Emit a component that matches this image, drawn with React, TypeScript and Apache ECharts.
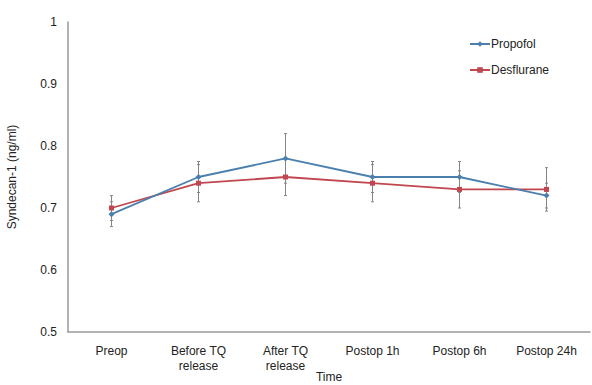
import React, { useEffect, useRef } from "react";
import * as echarts from "echarts";

const categories = ["Preop", "Before TQ\nrelease", "After TQ\nrelease", "Postop 1h", "Postop 6h", "Postop 24h"];
const propofol = [0.69, 0.75, 0.78, 0.75, 0.75, 0.72];
const propofolErr = [0.02, 0.025, 0.04, 0.025, 0.025, 0.02];
const desflurane = [0.70, 0.74, 0.75, 0.74, 0.73, 0.73];
const desfluraneErr = [0.02, 0.03, 0.03, 0.03, 0.03, 0.035];

const BLUE = "#4a7fae";
const RED = "#c0474f";

// Vertical whiskers (mean ± error) drawn through the chart's own scales
function errorSeries(name: string, values: number[], errs: number[]) {
  return {
    name: name + "-err",
    type: "custom",
    z: 1,
    silent: true,
    data: values.map((v, i) => [i, v - errs[i], v + errs[i]]),
    renderItem: (params: any, api: any) => {
      const x = api.value(0);
      const lo = api.coord([x, api.value(1)]);
      const hi = api.coord([x, api.value(2)]);
      const w = 1.5;
      const style = { stroke: "#858585", lineWidth: 1 };
      return {
        type: "group",
        children: [
          { type: "line", shape: { x1: lo[0], y1: lo[1], x2: hi[0], y2: hi[1] }, style },
          { type: "line", shape: { x1: lo[0] - w, y1: lo[1], x2: lo[0] + w, y2: lo[1] }, style },
          { type: "line", shape: { x1: hi[0] - w, y1: hi[1], x2: hi[0] + w, y2: hi[1] }, style },
        ],
      };
    },
  };
}

export default function App() {
  const ref = useRef<HTMLDivElement>(null);
  useEffect(() => {
    const chart = echarts.init(ref.current!, null, { renderer: "svg" });
    const font = "Liberation Sans, Arial, sans-serif";
    chart.setOption({
      animation: false,
      backgroundColor: "#ffffff",
      textStyle: { fontFamily: font },
      legend: {
        orient: "vertical",
        left: 464,
        top: 33,
        itemGap: 14,
        itemWidth: 20,
        itemHeight: 7,
        data: ["Propofol", "Desflurane"],
        textStyle: { fontSize: 12, color: "#222", fontFamily: font, padding: [0, 0, 0, -4] },
      },
      grid: { left: 68, right: 2, top: 22, bottom: 53, containLabel: false, outerBoundsMode: "none" },
      xAxis: {
        type: "category",
        data: categories,
        boundaryGap: true,
        name: "Time",
        nameLocation: "middle",
        nameGap: 39,
        nameMoveOverlap: false,
        nameTextStyle: { fontSize: 12, lineHeight: 12, color: "#222", fontFamily: font },
        axisLine: { lineStyle: { color: "#9a9a9a", width: 1.5 } },
        axisTick: { show: false },
        axisLabel: { fontSize: 12, color: "#222", lineHeight: 15, margin: 11, fontFamily: font, interval: 0 },
      },
      yAxis: {
        type: "value",
        min: 0.5,
        max: 1,
        interval: 0.1,
        name: "Syndecan-1 (ng/ml)",
        nameLocation: "middle",
        nameGap: 50,
        nameTextStyle: { fontSize: 12, color: "#222", fontFamily: font },
        axisLine: { show: true, lineStyle: { color: "#9a9a9a", width: 1.5 } },
        axisTick: { show: false },
        splitLine: { show: false },
        axisLabel: {
          fontSize: 12,
          color: "#222",
          margin: 11,
          fontFamily: font,
          formatter: (v: number) => (Math.abs(v - 1) < 1e-9 ? "1" : v.toFixed(1)),
        },
      },
      series: [
        errorSeries("Propofol", propofol, propofolErr),
        errorSeries("Desflurane", desflurane, desfluraneErr),
        {
          name: "Propofol",
          type: "line",
          data: propofol,
          z: 3,
          symbol: "diamond",
          symbolSize: 6,
          color: BLUE,
          lineStyle: { color: BLUE, width: 1.8 },
          itemStyle: { color: BLUE },
        },
        {
          name: "Desflurane",
          type: "line",
          data: desflurane,
          z: 2,
          symbol: "rect",
          symbolSize: 5,
          color: RED,
          lineStyle: { color: RED, width: 1.8 },
          itemStyle: { color: RED },
        },
      ],
    });
    return () => chart.dispose();
  }, []);
  return <div ref={ref} style={{ width: 592, height: 385, position: "absolute", left: 0, top: 0 }} />;
}
